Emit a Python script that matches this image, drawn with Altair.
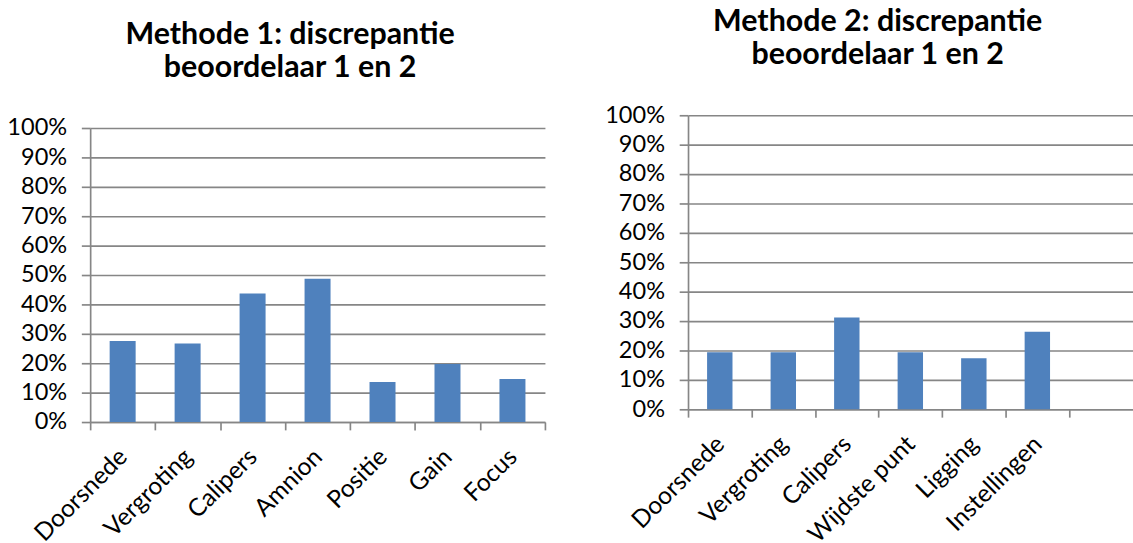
import altair as alt
import pandas as pd

cats1 = ["Doorsnede", "Vergroting", "Calipers", "Amnion", "Positie", "Gain", "Focus"]
vals1 = [0.276, 0.267, 0.437, 0.487, 0.136, 0.197, 0.146]

cats2 = ["Doorsnede", "Vergroting", "Calipers", "Wijdste punt", "Ligging", "Instellingen"]
vals2 = [0.194, 0.194, 0.312, 0.194, 0.174, 0.264]
slots2 = cats2 + [""]  # Excel category axis has an empty 7th slot

title1 = ["Methode 1: discrepantie", "beoordelaar 1 en 2"]
title2 = ["Methode 2: discrepantie", "beoordelaar 1 en 2"]
yticks = [0, 0.1, 0.2, 0.3, 0.4, 0.5, 0.6, 0.7, 0.8, 0.9, 1.0]

FONT = "Lato"
GRID = "#868686"
BLUE = "#4F81BD"
LW = 1.7


def y_axis():
    return alt.Axis(values=yticks, format=".0%", grid=True, gridColor=GRID, gridWidth=LW,
                    domain=True, domainColor=GRID, domainWidth=LW,
                    ticks=True, tickColor=GRID, tickSize=9, tickWidth=LW,
                    labelFont=FONT, labelFontSize=24, labelColor="#000000",
                    labelPadding=15, title=None)


def x_axis(values=None, domain=True):
    kw = dict(tickBand="extent", labelAngle=-45, labelAlign="right", labelBaseline="middle",
              labelFont=FONT, labelFontSize=25, labelColor="#000000", labelPadding=23,
              grid=False, domain=domain, domainColor=GRID, domainWidth=LW,
              ticks=True, tickColor=GRID, tickSize=8, tickWidth=LW, title=None)
    if values is not None:
        kw["values"] = values
    return alt.Axis(**kw)


def title(text, dx):
    return alt.TitleParams(text=text, font=FONT, fontSize=31, fontWeight="bold", color="#000000",
                           anchor="middle", frame="group", dx=dx, offset=33, lineHeight=34)


def spacer(h):
    return alt.Chart(pd.DataFrame({"a": [0]})).mark_text(text="", opacity=0).encode(
        x=alt.value(0), y=alt.value(0)
    ).properties(width=1, height=h)


df1 = pd.DataFrame({"cat": cats1, "val": vals1})
df2 = pd.DataFrame({"cat": cats2, "val": vals2})

left = alt.Chart(df1).mark_bar(color=BLUE, width=alt.RelativeBandSize(0.4)).encode(
    x=alt.X("cat:N", sort=None,
            scale=alt.Scale(domain=cats1, paddingInner=0, paddingOuter=0),
            axis=x_axis()),
    y=alt.Y("val:Q", scale=alt.Scale(domain=[0, 1]), axis=y_axis()),
).properties(width=464, height=300, title=title(title1, -28))

right = alt.Chart(df2).mark_bar(color=BLUE, width=alt.RelativeBandSize(0.4)).encode(
    x=alt.X("cat:N", sort=None,
            scale=alt.Scale(domain=slots2, range=[0, 453.6], paddingInner=0, paddingOuter=0),
            axis=x_axis(values=cats2, domain=False)),
    y=alt.Y("val:Q", scale=alt.Scale(domain=[0, 1]), axis=y_axis()),
).properties(width=445, height=300, title=title(title2, -29))

chart = alt.hconcat(
    alt.vconcat(spacer(18), left, spacing=0),
    alt.vconcat(spacer(1), right, spacing=0),
    spacing=60,
).properties(
    padding={"left": 7, "top": -10, "right": 0, "bottom": 0}
).configure_view(stroke=None)

chart.save("out.html", embed_options={"renderer": "svg", "actions": False})
